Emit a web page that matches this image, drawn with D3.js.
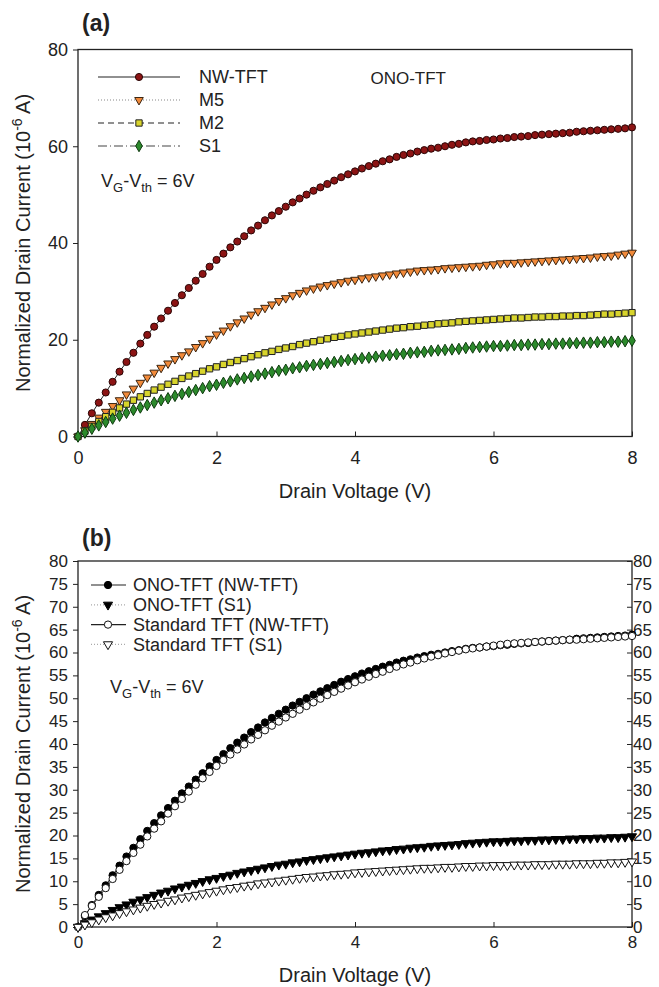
<!DOCTYPE html>
<html>
<head>
<meta charset="utf-8">
<script src="https://cdn.jsdelivr.net/npm/d3@7"></script>
<style>
  body { margin: 0; background: #fff; }
  svg { display: block; }
  text { font-family: "Liberation Sans", Arial, sans-serif; fill: #222; }
</style>
</head>
<body>
<div id="chart"></div>
<script>
// drain voltage steps (V)
const voltage = [
  0, 0.1, 0.2, 0.3, 0.4, 0.5, 0.6, 0.7, 0.8, 0.9,
  1.0, 1.1, 1.2, 1.3, 1.4, 1.5, 1.6, 1.7, 1.8, 1.9,
  2.0, 2.1, 2.2, 2.3, 2.4, 2.5, 2.6, 2.7, 2.8, 2.9,
  3.0, 3.1, 3.2, 3.3, 3.4, 3.5, 3.6, 3.7, 3.8, 3.9,
  4.0, 4.1, 4.2, 4.3, 4.4, 4.5, 4.6, 4.7, 4.8, 4.9,
  5.0, 5.1, 5.2, 5.3, 5.4, 5.5, 5.6, 5.7, 5.8, 5.9,
  6.0, 6.1, 6.2, 6.3, 6.4, 6.5, 6.6, 6.7, 6.8, 6.9,
  7.0, 7.1, 7.2, 7.3, 7.4, 7.5, 7.6, 7.7, 7.8, 7.9,
  8.0
];

// ONO-TFT, normalized drain current (1e-6 A)
const nwTft = [
  0, 2.4, 4.8, 7.0, 9.1, 11.3, 13.4, 15.4, 17.3, 19.2,
  21.0, 22.7, 24.4, 26.0, 27.6, 29.2, 30.7, 32.2, 33.6, 35.1,
  36.5, 37.8, 39.1, 40.3, 41.4, 42.6, 43.6, 44.7, 45.7, 46.6,
  47.5, 48.4, 49.2, 50.0, 50.8, 51.5, 52.2, 52.9, 53.6, 54.2,
  54.8, 55.4, 55.9, 56.4, 56.9, 57.3, 57.8, 58.2, 58.5, 58.9,
  59.2, 59.5, 59.7, 60.0, 60.3, 60.5, 60.8, 61.0, 61.1, 61.3,
  61.4, 61.6, 61.7, 61.9, 62.0, 62.1, 62.3, 62.4, 62.5, 62.6,
  62.7, 62.8, 63.0, 63.1, 63.2, 63.3, 63.4, 63.5, 63.6, 63.7,
  63.9
];
const m5 = [
  0, 1.3, 2.6, 3.9, 5.1, 6.3, 7.5, 8.7, 9.9, 11.1,
  12.2, 13.2, 14.2, 15.1, 16.0, 16.8, 17.6, 18.5, 19.3, 20.2,
  21.1, 21.9, 22.8, 23.6, 24.4, 25.2, 25.9, 26.6, 27.3, 28.0,
  28.6, 29.2, 29.7, 30.2, 30.6, 31.0, 31.3, 31.6, 31.9, 32.2,
  32.4, 32.7, 32.9, 33.1, 33.3, 33.5, 33.7, 33.9, 34.1, 34.3,
  34.4, 34.5, 34.6, 34.8, 34.9, 35.0, 35.1, 35.2, 35.3, 35.5,
  35.6, 35.8, 35.9, 35.9, 36.0, 36.1, 36.2, 36.3, 36.4, 36.5,
  36.6, 36.7, 36.8, 36.9, 37.0, 37.2, 37.3, 37.4, 37.6, 37.8,
  38.0
];
const m2 = [
  0, 1.1, 2.1, 3.1, 4.1, 5.0, 5.9, 6.7, 7.5, 8.2,
  8.9, 9.6, 10.2, 10.8, 11.4, 12.0, 12.5, 13.0, 13.5, 14.0,
  14.4, 14.9, 15.3, 15.7, 16.1, 16.5, 16.9, 17.3, 17.6, 18.0,
  18.3, 18.6, 19.0, 19.3, 19.6, 19.9, 20.2, 20.5, 20.7, 21.0,
  21.2, 21.4, 21.6, 21.8, 22.0, 22.2, 22.4, 22.5, 22.7, 22.8,
  23.0, 23.1, 23.3, 23.4, 23.5, 23.7, 23.8, 23.9, 24.0, 24.1,
  24.2, 24.3, 24.4, 24.5, 24.5, 24.6, 24.7, 24.7, 24.8, 24.8,
  24.9, 24.9, 25.0, 25.0, 25.1, 25.2, 25.3, 25.3, 25.4, 25.5,
  25.6
];
const s1 = [
  0, 0.8, 1.6, 2.3, 3.0, 3.7, 4.3, 4.9, 5.5, 6.0,
  6.5, 7.0, 7.5, 7.9, 8.4, 8.8, 9.2, 9.6, 10.0, 10.4,
  10.7, 11.1, 11.4, 11.8, 12.1, 12.4, 12.7, 13.0, 13.3, 13.6,
  13.8, 14.1, 14.3, 14.6, 14.8, 15.0, 15.2, 15.4, 15.6, 15.8,
  16.0, 16.2, 16.3, 16.5, 16.7, 16.8, 17.0, 17.1, 17.3, 17.4,
  17.5, 17.7, 17.8, 17.9, 18.0, 18.1, 18.3, 18.4, 18.5, 18.6,
  18.7, 18.7, 18.8, 18.9, 18.9, 19.0, 19.0, 19.1, 19.1, 19.2,
  19.2, 19.3, 19.3, 19.4, 19.4, 19.5, 19.5, 19.6, 19.6, 19.7,
  19.8
];

// Standard TFT
const stdNwTft = [
  0, 2.6, 4.6, 6.6, 8.5, 10.5, 12.5, 14.4, 16.2, 18.0,
  19.8, 21.5, 23.1, 24.8, 26.4, 28.0, 29.6, 31.1, 32.5, 33.9,
  35.2, 36.5, 37.7, 38.8, 39.9, 41.0, 42.0, 43.0, 44.0, 44.9,
  45.8, 46.6, 47.5, 48.3, 49.1, 49.9, 50.7, 51.4, 52.1, 52.8,
  53.5, 54.1, 54.7, 55.3, 55.8, 56.4, 56.9, 57.4, 57.8, 58.3,
  58.7, 59.1, 59.4, 59.8, 60.1, 60.4, 60.7, 60.9, 61.1, 61.3,
  61.5, 61.7, 61.9, 62.0, 62.1, 62.2, 62.3, 62.4, 62.5, 62.6,
  62.7, 62.8, 62.8, 62.9, 63.0, 63.1, 63.2, 63.3, 63.4, 63.5,
  63.6
];
const stdS1 = [
  0, 0.5, 1.0, 1.6, 2.1, 2.5, 3.0, 3.4, 3.8, 4.2,
  4.6, 5.0, 5.3, 5.7, 6.0, 6.4, 6.7, 7.0, 7.3, 7.6,
  7.9, 8.2, 8.5, 8.7, 9.0, 9.2, 9.5, 9.7, 9.9, 10.1,
  10.3, 10.5, 10.7, 10.9, 11.0, 11.2, 11.3, 11.5, 11.6, 11.7,
  11.9, 12.0, 12.1, 12.2, 12.3, 12.4, 12.5, 12.6, 12.7, 12.8,
  12.9, 12.9, 13.0, 13.1, 13.1, 13.2, 13.3, 13.3, 13.4, 13.4,
  13.5, 13.5, 13.5, 13.6, 13.6, 13.6, 13.7, 13.7, 13.7, 13.8,
  13.8, 13.8, 13.9, 13.9, 13.9, 14.0, 14.0, 14.1, 14.1, 14.2,
  14.3
];

const xTicks = [0, 2, 4, 6, 8];
const yTicksA = [0, 20, 40, 60, 80];
const yTicksB = [0, 5, 10, 15, 20, 25, 30, 35, 40, 45, 50, 55, 60, 65, 70, 75, 80];

const legendA = ['NW-TFT', 'M5', 'M2', 'S1'];
const legendB = ['ONO-TFT (NW-TFT)', 'ONO-TFT (S1)', 'Standard TFT (NW-TFT)', 'Standard TFT (S1)'];

const svg = d3.select('#chart').append('svg')
  .attr('width', 659)
  .attr('height', 987);

const triDown = d3.symbol().type(d3.symbolTriangle);

// series styles, panel (a)
const seriesA = [
  { name: legendA[0], values: nwTft, shape: d3.symbolCircle, size: 40, rot: 0,
    fill: '#8c1414', stroke: '#2a0505', line: '#222', dash: null },
  { name: legendA[1], values: m5, shape: d3.symbolTriangle, size: 32, rot: 180,
    fill: '#f28a3a', stroke: '#3a2410', line: '#888', dash: '1,2' },
  { name: legendA[2], values: m2, shape: d3.symbolSquare, size: 40, rot: 0,
    fill: '#d8d42c', stroke: '#222', line: '#222', dash: '6,4' },
  { name: legendA[3], values: s1, shape: d3.symbolDiamond, size: 38, rot: 0,
    fill: '#2c8a2c', stroke: '#0e3a0e', line: '#444', dash: '9,3,1,3' }
];

// series styles, panel (b)
const seriesB = [
  { name: legendB[0], values: nwTft, shape: d3.symbolCircle, size: 42, rot: 0,
    fill: '#000', stroke: '#000', line: '#222', dash: null },
  { name: legendB[1], values: s1, shape: d3.symbolTriangle, size: 36, rot: 180,
    fill: '#000', stroke: '#000', line: '#aaa', dash: '1,2' },
  { name: legendB[2], values: stdNwTft, shape: d3.symbolCircle, size: 42, rot: 0,
    fill: '#fff', stroke: '#111', line: '#222', dash: null },
  { name: legendB[3], values: stdS1, shape: d3.symbolTriangle, size: 36, rot: 180,
    fill: '#fff', stroke: '#111', line: '#aaa', dash: '1,2' }
];

function drawSeries(g, x, y, series) {
  series.forEach(s => {
    const pts = voltage.map((v, i) => [v, s.values[i]]);
    g.append('path')
      .datum(pts)
      .attr('fill', 'none')
      .attr('stroke', s.line)
      .attr('stroke-width', 1)
      .attr('stroke-dasharray', s.dash)
      .attr('d', d3.line().x(d => x(d[0])).y(d => y(d[1])));
    g.selectAll(null)
      .data(pts)
      .enter().append('path')
      .attr('d', d3.symbol().type(s.shape).size(s.size))
      .attr('transform', d => `translate(${x(d[0])},${y(d[1])}) rotate(${s.rot})`)
      .attr('fill', s.fill)
      .attr('stroke', s.stroke)
      .attr('stroke-width', 1);
  });
}

function drawLegend(g, series, x0, x1, xm, xt, y0, step, fontSize) {
  series.forEach((s, i) => {
    const yy = y0 + i * step;
    g.append('line')
      .attr('x1', x0).attr('x2', x1).attr('y1', yy).attr('y2', yy)
      .attr('stroke', s.line).attr('stroke-width', 1.2)
      .attr('stroke-dasharray', s.dash);
    g.append('path')
      .attr('d', d3.symbol().type(s.shape).size(s.size))
      .attr('transform', `translate(${xm},${yy}) rotate(${s.rot})`)
      .attr('fill', s.fill).attr('stroke', s.stroke).attr('stroke-width', 1);
    g.append('text')
      .attr('x', xt).attr('y', yy + fontSize * 0.36)
      .style('font-size', fontSize + 'px')
      .text(s.name);
  });
}

function vgLabel(x, y) {
  const t = svg.append('text').attr('x', x).attr('y', y).style('font-size', '18px');
  t.append('tspan').text('V');
  t.append('tspan').attr('dy', 5).style('font-size', '13px').text('G');
  t.append('tspan').attr('dy', -5).text('-V');
  t.append('tspan').attr('dy', 5).style('font-size', '13px').text('th');
  t.append('tspan').attr('dy', -5).text(' = 6V');
}

function yTitle(cx, cy) {
  const t = svg.append('text')
    .attr('transform', `translate(${cx},${cy}) rotate(-90)`)
    .attr('text-anchor', 'middle')
    .style('font-size', '20px');
  t.append('tspan').text('Normalized Drain Current (10');
  t.append('tspan').attr('dy', -8).style('font-size', '14px').text('-6');
  t.append('tspan').attr('dy', 8).text(' A)');
}

function styleAxis(g, fontSize) {
  g.attr('color', '#222');
  g.select('.domain').remove();
  g.selectAll('text').style('font-size', fontSize + 'px')
    .style('font-family', '"Liberation Sans", Arial, sans-serif');
  g.selectAll('line').attr('stroke-width', 1);
}

// ---------- panel (a) ----------
const xA = d3.scaleLinear().domain([0, 8]).range([78, 632]);
const yA = d3.scaleLinear().domain([0, 80]).range([436.5, 49.5]);

svg.append('text').attr('x', 82).attr('y', 31)
  .style('font-size', '23px').style('font-weight', 'bold').text('(a)');

svg.append('g')
  .attr('transform', 'translate(0,436.5)')
  .call(d3.axisBottom(xA).tickValues(xTicks).tickSizeInner(-5).tickSizeOuter(0).tickPadding(15))
  .call(g => styleAxis(g, 18));
svg.append('g')
  .attr('transform', 'translate(78,0)')
  .call(d3.axisLeft(yA).tickValues(yTicksA).tickSizeInner(5).tickSizeOuter(0).tickPadding(5))
  .call(g => styleAxis(g, 18));

svg.append('rect')
  .attr('x', xA(0)).attr('y', yA(80))
  .attr('width', xA(8) - xA(0)).attr('height', yA(0) - yA(80))
  .attr('fill', 'none').attr('stroke', '#222').attr('stroke-width', 1.3);

drawSeries(svg.append('g'), xA, yA, seriesA);
drawLegend(svg.append('g'), seriesA, 98, 180, 139, 199, 77, 23, 18);

svg.append('text').attr('x', 446).attr('y', 84).attr('text-anchor', 'end')
  .style('font-size', '17px').text('ONO-TFT');
vgLabel(101, 187);
yTitle(30, 243);
svg.append('text').attr('x', 355).attr('y', 498).attr('text-anchor', 'middle')
  .style('font-size', '20px').text('Drain Voltage (V)');

// ---------- panel (b) ----------
const xB = d3.scaleLinear().domain([0, 8]).range([78, 632]);
const yB = d3.scaleLinear().domain([0, 80]).range([927, 561]);

svg.append('text').attr('x', 82).attr('y', 546)
  .style('font-size', '23px').style('font-weight', 'bold').text('(b)');

svg.append('g')
  .attr('transform', 'translate(0,927)')
  .call(d3.axisBottom(xB).tickValues(xTicks).tickSizeInner(-5).tickSizeOuter(0).tickPadding(9))
  .call(g => styleAxis(g, 17));
svg.append('g')
  .attr('transform', 'translate(78,0)')
  .call(d3.axisLeft(yB).tickValues(yTicksB).tickSizeInner(5).tickSizeOuter(0).tickPadding(5))
  .call(g => styleAxis(g, 17));
svg.append('g')
  .attr('transform', 'translate(632,0)')
  .call(d3.axisRight(yB).tickValues(yTicksB).tickSizeInner(-5).tickSizeOuter(0).tickPadding(1))
  .call(g => styleAxis(g, 17));

svg.append('rect')
  .attr('x', xB(0)).attr('y', yB(80))
  .attr('width', xB(8) - xB(0)).attr('height', yB(0) - yB(80))
  .attr('fill', 'none').attr('stroke', '#222').attr('stroke-width', 1.3);

drawSeries(svg.append('g'), xB, yB, seriesB);
drawLegend(svg.append('g'), seriesB, 91, 126, 108, 133, 585, 19.8, 18);

vgLabel(110, 693);
yTitle(30, 744);
svg.append('text').attr('x', 355).attr('y', 982).attr('text-anchor', 'middle')
  .style('font-size', '20px').text('Drain Voltage (V)');
</script>
</body>
</html>
